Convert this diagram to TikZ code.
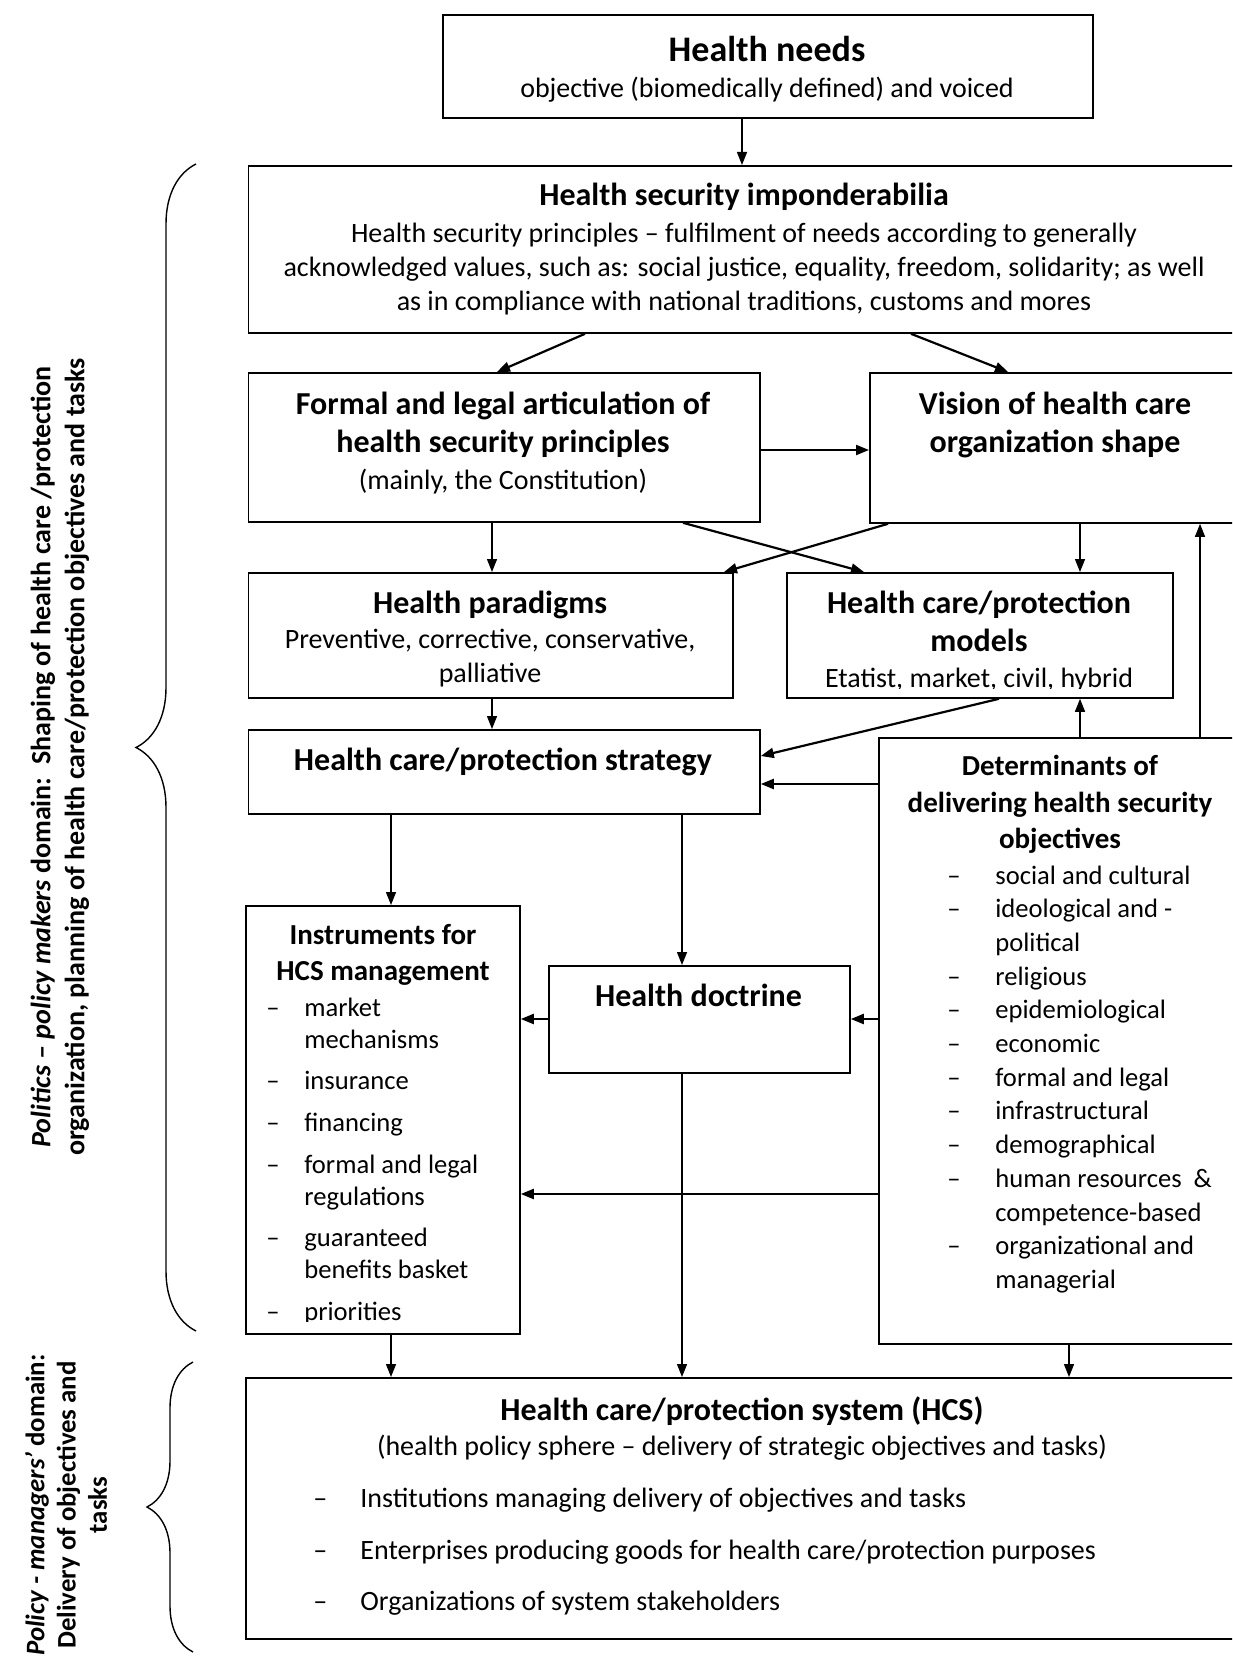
\documentclass[tikz,border=0pt]{standalone}
\usepackage{fontspec}
\setmainfont{Carlito}
\usetikzlibrary{arrows.meta,decorations.pathreplacing}

\newcommand{\hugefnt}{\fontsize{18}{21}\bfseries\selectfont}
\newcommand{\headfnt}{\fontsize{16}{19.2}\bfseries\selectfont}
\newcommand{\subhfnt}{\fontsize{14.5}{18.2}\bfseries\selectfont}
\newcommand{\bodyfnt}{\fontsize{14}{17}\selectfont}
\newcommand{\listfnt}{\fontsize{13.3}{16.85}\selectfont}
\newcommand{\sidefnt}{\fontsize{14}{17}\bfseries\selectfont}
\newcommand{\topln}{\rule{0pt}{1em}}
\newcommand{\dashitem}[2][24pt]{\makebox[#1][l]{–}#2}

\begin{document}
\begin{tikzpicture}[x=0.5pt,y=-0.5pt,
  box/.style={draw,line width=0.9pt,anchor=north west,inner sep=0pt},
  txt/.style={anchor=north,inner sep=0pt,align=center},
  lst/.style={anchor=north west,inner sep=0pt,align=left},
  arr/.style={-{Triangle[length=6.5pt,width=5pt]},line width=0.7pt},
  fat/.style={arr,line width=1.1pt},
  brc/.style={decorate,decoration={brace,amplitude=#1},line width=0.7pt}]
  \useasboundingbox (0,0) rectangle (1232,1663);
  \clip (0,0) rectangle (1232,1663);

  \node[box,minimum width=325pt,minimum height=51.5pt] (needs) at (442,14) {};
  \node[box,minimum width=496.25pt,minimum height=83.5pt] (imp) at (247.5,165) {};
  \node[box,minimum width=255.75pt,minimum height=74.5pt] (formal) at (247.5,372) {};
  \node[box,minimum width=185.5pt,minimum height=75pt] (vision) at (869,372) {};
  \node[box,minimum width=242.25pt,minimum height=62.5pt] (para) at (247.5,572) {};
  \node[box,minimum width=193pt,minimum height=62.5pt] (models) at (786,572) {};
  \node[box,minimum width=255.75pt,minimum height=42pt] (strat) at (247.5,729) {};
  \node[box,minimum width=182pt,minimum height=303pt] (det) at (878,737) {};
  \node[box,minimum width=137pt,minimum height=214pt] (instr) at (245,905) {};
  \node[box,minimum width=150.5pt,minimum height=53.5pt] (doct) at (548,965) {};
  \node[box,minimum width=497.5pt,minimum height=130.5pt] (hcs) at (245,1377) {};

  \node[txt,font=\hugefnt] (needs-t) at (767,25) {\topln Health needs};
  \node[txt,font=\bodyfnt] (needs-s) at (767,69.5) {\topln objective (biomedically defined) and voiced};
  \node[txt,font=\headfnt] (imp-t) at (744,173) {\topln Health security imponderabilia};
  \node[txt,font=\bodyfnt] (imp-s) at (744,214) {\topln Health security principles – fulfilment of needs according to generally\\acknowledged values, such as: social justice, equality, freedom, solidarity; as well\\as in compliance with national traditions, customs and mores};
  \node[txt,font=\headfnt] (formal-t) at (503,382) {\topln Formal and legal articulation of\\health security principles};
  \node[txt,font=\bodyfnt] (formal-s) at (503,461) {\topln (mainly, the Constitution)};
  \node[txt,font=\headfnt] (vision-t) at (1055,382) {\topln Vision of health care\\organization shape};
  \node[txt,font=\headfnt] (para-t) at (490,581) {\topln Health paradigms};
  \node[txt,font=\bodyfnt] (para-s) at (490,620) {\topln Preventive, corrective, conservative,\\palliative};
  \node[txt,font=\headfnt] (models-t) at (979,581) {\topln Health care/protection\\models};
  \begin{scope}
    \clip (models.north west) rectangle (models.east |- 0,688.5);
    \node[txt,font=\bodyfnt] (models-s) at (979,659) {\topln Etatist, market, civil, hybrid};
  \end{scope}
  \node[txt,font=\headfnt] (strat-t) at (503,738) {\topln Health care/protection strategy};
  \node[txt,font=\subhfnt] (det-t) at (1060,746.5) {\topln Determinants of\\delivering health security\\objectives};
  \node[lst,font=\listfnt] (det-l) at (947,857) {\topln\dashitem{social and cultural}\\
    \dashitem{ideological and -}\\ \hspace*{24pt}political\\
    \dashitem{religious}\\ \dashitem{epidemiological}\\ \dashitem{economic}\\
    \dashitem{formal and legal}\\ \dashitem{infrastructural}\\ \dashitem{demographical}\\
    \dashitem{human resources\ \ \&}\\ \hspace*{24pt}competence-based\\
    \dashitem{organizational and}\\ \hspace*{24pt}managerial};
  \node[txt,font=\subhfnt] (instr-t) at (383,915) {\topln Instruments for\\HCS management};
  \begin{scope}
    \clip (instr.north west) rectangle (instr.east |- 0,1321);
    \node[lst,font=\fontsize{13.3}{15.85}\selectfont] (instr-l) at (266,989.5) {\topln\dashitem[19pt]{market}\\ \hspace*{19pt}mechanisms\\[5pt]
      \dashitem[19pt]{insurance}\\[5pt] \dashitem[19pt]{financing}\\[5pt]
      \dashitem[19pt]{formal and legal}\\ \hspace*{19pt}regulations\\[5pt]
      \dashitem[19pt]{guaranteed}\\ \hspace*{19pt}benefits basket\\[5pt]
      \dashitem[19pt]{priorities}};
  \end{scope}
  \node[txt,font=\headfnt] (doct-t) at (698.5,974) {\topln Health doctrine};
  \node[txt,font=\headfnt] (hcs-t) at (742,1388.5) {\topln Health care/protection system (HCS)};
  \node[txt,font=\bodyfnt] (hcs-s) at (742,1427) {\topln (health policy sphere – delivery of strategic objectives and tasks)};
  \node[lst,font=\fontsize{14}{25.75}\selectfont] (hcs-l) at (313,1479.5) {\topln\dashitem[23.5pt]{Institutions managing delivery of objectives and tasks}\\
    \dashitem[23.5pt]{Enterprises producing goods for health care/protection purposes}\\
    \dashitem[23.5pt]{Organizations of system stakeholders}};

  \node[rotate=90,align=center,font=\sidefnt,inner sep=0pt] (politics) at (60,757) {\textit{Politics – policy makers} domain:\ \ Shaping of health care /protection\\organization, planning of health care/protection objectives and tasks};
  \node[rotate=90,align=center,font=\fontsize{13.4}{15.6}\bfseries\selectfont,inner sep=0pt] (policy) at (66,1505) {\textit{Policy - managers’} domain:\\Delivery of objectives and\\tasks};
  \draw[brc=30pt] (196,1331) -- (196,164);
  \draw[brc=23pt] (193,1652) -- (193,1362);

  \draw[arr] (needs.south -| 742,0) -- (imp.north -| 742,0);
  \draw[fat] (imp.south -| 585,0) -- (formal.north -| 497,0);
  \draw[fat] (imp.south -| 911,0) -- (vision.north -| 1008,0);
  \draw[fat] (formal.east |- 0,450) -- (vision.west |- 0,450);
  \draw[arr] (formal.south -| 492,0) -- (para.north -| 492,0);
  \draw[fat] (formal.south -| 683,0) -- (models.north -| 864,0);
  \draw[fat] (vision.south -| 888,0) -- (para.north -| 724,0);
  \draw[arr] (vision.south -| 1080,0) -- (models.north -| 1080,0);
  \draw[arr] (det.north -| 1200,0) -- (vision.south -| 1200,0);
  \draw[arr] (det.north -| 1080,0) -- (models.south -| 1080,0);
  \draw[arr] (para.south -| 492,0) -- (strat.north -| 492,0);
  \draw[fat] (models.south -| 999,0) -- (strat.east |- 0,756);
  \draw[fat] (det.west |- 0,784) -- (strat.east |- 0,784);
  \draw[arr] (strat.south -| 391,0) -- (instr.north -| 391,0);
  \draw[arr] (strat.south -| 682,0) -- (doct.north -| 682,0);
  \draw[fat] (doct.west |- 0,1019) -- (instr.east |- 0,1019);
  \draw[fat] (det.west |- 0,1019) -- (doct.east |- 0,1019);
  \draw[fat] (det.west |- 0,1194) -- (instr.east |- 0,1194);
  \draw[arr] (doct.south -| 682,0) -- (hcs.north -| 682,0);
  \draw[arr] (instr.south -| 391,0) -- (hcs.north -| 391,0);
  \draw[arr] (det.south -| 1069,0) -- (hcs.north -| 1069,0);
\end{tikzpicture}
\end{document}
